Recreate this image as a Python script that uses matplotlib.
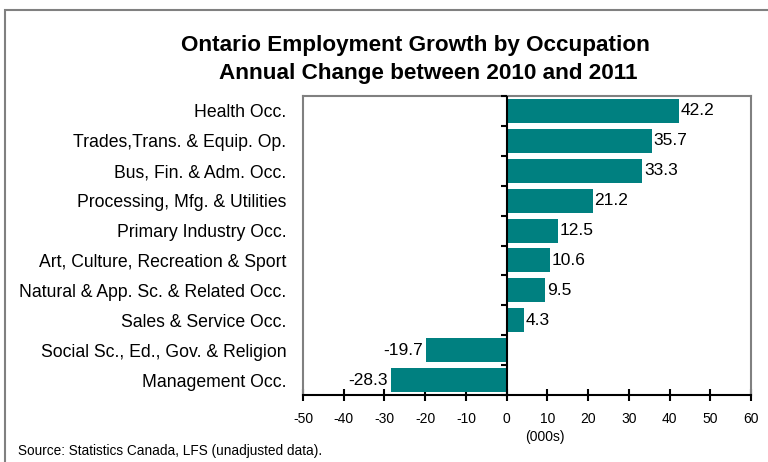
import numpy as np
import matplotlib.pyplot as plt
from matplotlib.patches import Rectangle

categories = ["Health Occ.", "Trades,Trans. & Equip. Op.", "Bus, Fin. & Adm. Occ.",
              "Processing, Mfg. & Utilities", "Primary Industry Occ.",
              "Art, Culture, Recreation & Sport", "Natural & App. Sc. & Related Occ.",
              "Sales & Service Occ.", "Social Sc., Ed., Gov. & Religion", "Management Occ."]
values = [42.2, 35.7, 33.3, 21.2, 12.5, 10.6, 9.5, 4.3, -19.7, -28.3]
xticks = [-50, -40, -30, -20, -10, 0, 10, 20, 30, 40, 50, 60]

plt.rcParams['font.family'] = ['Liberation Sans', 'DejaVu Sans']

fig = plt.figure(figsize=(7.68, 4.62), dpi=100)
ax = fig.add_axes([303/768, 1-395/462, (751-303)/768, (395-96)/462])

# outer gray border (top and left visible)
fig.patches.append(Rectangle((5/768, -0.1), 1.2, 1-10/462+0.1, transform=fig.transFigure,
                             fill=False, edgecolor='#808080', linewidth=1.5))

y = np.arange(len(categories))
ax.barh(y, values, height=0.8, color='#008080', zorder=2)
ax.set_ylim(len(categories)-0.5, -0.5)
ax.set_xlim(-50, 60)
ax.set_xticks(xticks)
ax.set_xticklabels([str(t) for t in xticks], fontsize=10)
ax.tick_params(axis='x', direction='inout', length=8, width=1.5, pad=8)
ax.set_yticks(y)
ax.set_yticklabels(categories, fontsize=12.7)
ax.tick_params(axis='y', length=0, pad=12)

for s in ['top', 'left', 'right']:
    ax.spines[s].set_color('#808080')
    ax.spines[s].set_linewidth(1.5)
ax.spines['bottom'].set_color('black')
ax.spines['bottom'].set_linewidth(1.5)

# zero line with category separator ticks
ax.axvline(0, color='black', linewidth=1.5, zorder=3)
ax.hlines(np.arange(len(categories)+1)-0.5, -1.5, 0, color='black', linewidth=1.5, zorder=3,
          clip_on=False)

for yi, v in zip(y, values):
    if v >= 0:
        ax.text(v+0.4, yi, f"{v:.1f}", va='center', ha='left', fontsize=12.5)
    else:
        ax.text(v-0.8, yi, f"{v:.1f}", va='center', ha='right', fontsize=12.5)

fig.text(415/768, 1-45/462, "Ontario Employment Growth by Occupation", ha='center', va='center',
         fontsize=16.2, fontweight='bold')
fig.text(428/768, 1-74/462, "Annual Change between 2010 and 2011", ha='center', va='center',
         fontsize=16.2, fontweight='bold')
fig.text(545/768, 1-437/462, "(000s)", ha='center', va='center', fontsize=10)
fig.text(18/768, 1-451/462, "Source: Statistics Canada, LFS (unadjusted data).", ha='left',
         va='center', fontsize=9.8)

fig.savefig('out.png', dpi=100)
